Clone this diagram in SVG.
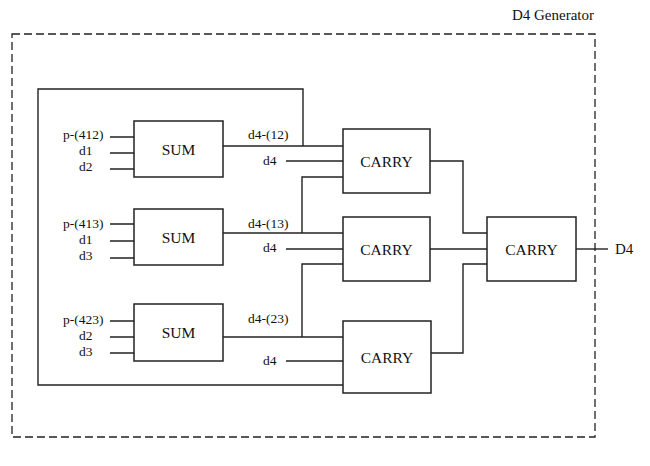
<svg xmlns="http://www.w3.org/2000/svg" width="650" height="466" viewBox="0 0 650 466">
<style>
.box{fill:#fff;stroke:#222;stroke-width:1.5}
.w{fill:none;stroke:#222;stroke-width:1.4}
.t{font-family:"Liberation Serif","Times New Roman",serif;fill:#111}
.lb{font-size:13.5px}
.bl{font-size:15.5px;text-anchor:middle}
</style>
<rect width="650" height="466" fill="#fff"/>
<text class="t" x="594" y="20" font-size="15" text-anchor="end">D4 Generator</text>
<rect x="12" y="34" width="583" height="403" fill="none" stroke="#222" stroke-width="1.3" stroke-dasharray="8,4"/>
<g id="connectors" class="w">
<!-- SUM1 inputs -->
<path d="M110 137H134M110 153H134M110 169H134"/>
<path d="M110 224H134M110 241H134M110 258H134"/>
<path d="M110 321H134M110 337H134M110 353H134"/>
<!-- SUM1 out + feedback -->
<path d="M223 146H343"/>
<path d="M303 146V89H38V385H343"/>
<path d="M286 161H343"/>
<!-- SUM2 out -->
<path d="M223 233H343"/>
<path d="M343 177H302V233"/>
<path d="M286 249H343"/>
<!-- SUM3 out -->
<path d="M223 337H343"/>
<path d="M343 264H302V337"/>
<path d="M286 361H343"/>
<!-- CARRY outputs -->
<path d="M430 161H463V233H487"/>
<path d="M430 249H487"/>
<path d="M431 353H463V264H487"/>
<path d="M576 249H608"/>
</g>
<g id="sum1"><rect class="box" x="134" y="121" width="89" height="56"/><text class="t bl" x="178.5" y="154.5">SUM</text></g>
<g id="sum2"><rect class="box" x="134" y="209" width="89" height="56"/><text class="t bl" x="178.5" y="242.5">SUM</text></g>
<g id="sum3"><rect class="box" x="134" y="304" width="89" height="57"/><text class="t bl" x="178.5" y="338">SUM</text></g>
<g id="carry1"><rect class="box" x="343" y="129" width="87" height="64"/><text class="t bl" x="386.5" y="166.5">CARRY</text></g>
<g id="carry2"><rect class="box" x="343" y="217" width="87" height="64"/><text class="t bl" x="386.5" y="254.5">CARRY</text></g>
<g id="carry3"><rect class="box" x="343" y="321" width="88" height="72"/><text class="t bl" x="387" y="362.5">CARRY</text></g>
<g id="carry4"><rect class="box" x="487" y="217" width="89" height="64"/><text class="t bl" x="531.5" y="254.5">CARRY</text></g>
<g id="labels" class="t lb">
<text x="63" y="139">p-(412)</text>
<text x="79" y="155">d1</text>
<text x="79" y="171">d2</text>
<text x="63" y="227.5">p-(413)</text>
<text x="79" y="243.5">d1</text>
<text x="79" y="259.5">d3</text>
<text x="63" y="323.5">p-(423)</text>
<text x="79" y="339.5">d2</text>
<text x="79" y="355.5">d3</text>
<text x="248" y="138.5">d4-(12)</text>
<text x="263" y="164.5">d4</text>
<text x="248" y="227.5">d4-(13)</text>
<text x="263" y="251.5">d4</text>
<text x="248" y="322.5">d4-(23)</text>
<text x="263" y="364.5">d4</text>
<text x="615" y="254" font-size="15">D4</text>
</g>
</svg>
